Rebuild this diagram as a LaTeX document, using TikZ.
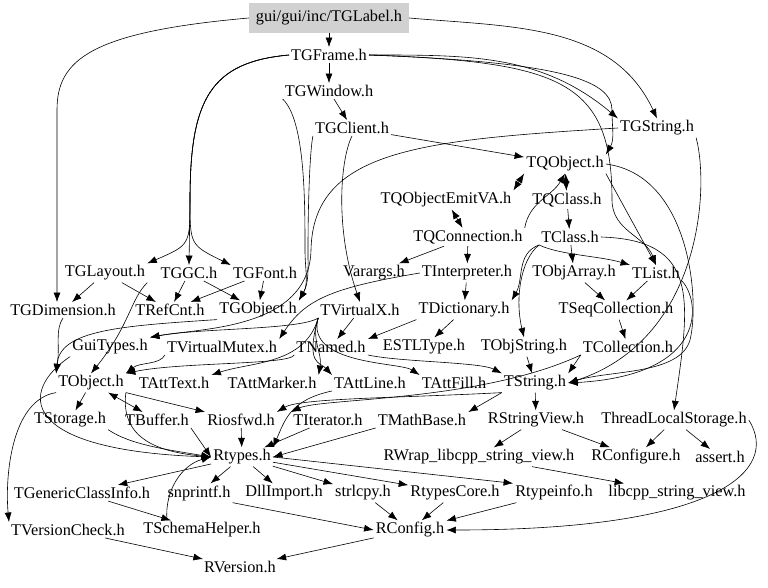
\documentclass[tikz,border=0pt]{standalone}
\usepackage{fontspec}
\setmainfont{Liberation Serif}
\usetikzlibrary{arrows.meta}
\begin{document}
\begin{tikzpicture}[x=1pt, y=-1pt,
        header/.style={inner sep=2pt, font=\fontsize{16.3}{18}\selectfont},
        root/.style={header, fill=black!18, minimum width=160pt, minimum height=30pt},
        arrow/.style={-{Latex[length=9.5pt,width=7pt]}, line width=0.6pt},
        both/.style={{Latex[length=9.5pt,width=7pt]}-{Latex[length=9.5pt,width=7pt]}, line width=0.6pt}
    ]
        \fill[white] (0,0) rectangle (768,587);
        \useasboundingbox (0,0) rectangle (768,587);

        % Upper part
        \node[root] (label) at (329,18) {gui/gui/inc/TGLabel.h};
        \node[header] (frame) at (329,55) {TGFrame.h};
        \node[header] (window) at (329,91) {TGWindow.h};
        \node[header] (client) at (352,128) {TGClient.h};
        \node[header] (gstring) at (657,128) {TGString.h};
        \node[header] (qobject) at (565,164) {TQObject.h};
        \node[header] (emitva) at (446,200) {TQObjectEmitVA.h};
        \node[header] (qclass) at (567,200) {TQClass.h};
        \node[header] (qconn) at (468,237) {TQConnection.h};
        \node[header] (tclass) at (570,237) {TClass.h};

        % Middle part
        \node[header] (glayout) at (105,273) {TGLayout.h};
        \node[header] (ggc) at (189,273) {TGGC.h};
        \node[header] (gfont) at (265,273) {TGFont.h};
        \node[header] (varargs) at (374,273) {Varargs.h};
        \node[header] (interp) at (467,273) {TInterpreter.h};
        \node[header] (objarray) at (574,273) {TObjArray.h};
        \node[header] (tlist) at (656,273) {TList.h};
        \node[header] (gdim) at (63,310) {TGDimension.h};
        \node[header] (refcnt) at (170,310) {TRefCnt.h};
        \node[header] (gobject) at (258,310) {TGObject.h};
        \node[header] (virtx) at (360,310) {TVirtualX.h};
        \node[header] (dict) at (464,310) {TDictionary.h};
        \node[header] (seqcoll) at (616,310) {TSeqCollection.h};
        \node[header] (guitypes) at (110,347) {GuiTypes.h};
        \node[header] (vmutex) at (222,347) {TVirtualMutex.h};
        \node[header] (named) at (331,347) {TNamed.h};
        \node[header] (estl) at (424,347) {ESTLType.h};
        \node[header] (objstring) at (524,347) {TObjString.h};
        \node[header] (coll) at (628,347) {TCollection.h};
        \node[header] (tobject) at (91,383) {TObject.h};
        \node[header] (atttext) at (174,383) {TAttText.h};
        \node[header] (attmarker) at (272,383) {TAttMarker.h};
        \node[header] (attline) at (370,383) {TAttLine.h};
        \node[header] (attfill) at (454,383) {TAttFill.h};
        \node[header] (tstring) at (535,383) {TString.h};

        % Lower part
        \node[header] (tstorage) at (70,420) {TStorage.h};
        \node[header] (tbuffer) at (157,420) {TBuffer.h};
        \node[header] (riosfwd) at (241,420) {Riosfwd.h};
        \node[header] (titerator) at (328,420) {TIterator.h};
        \node[header] (tmathbase) at (422,420) {TMathBase.h};
        \node[header] (rstringview) at (536,420) {RStringView.h};
        \node[header] (tls) at (674,420) {ThreadLocalStorage.h};
        \node[header] (rtypes) at (242,457) {Rtypes.h};
        \node[header] (rwrap) at (479,457) {RWrap\_libcpp\_string\_view.h};
        \node[header] (rconfigure) at (636,457) {RConfigure.h};
        \node[header] (assert) at (720,457) {assert.h};
        \node[header] (genclass) at (82,493) {TGenericClassInfo.h};
        \node[header] (snprintf) at (199,493) {snprintf.h};
        \node[header] (dllimport) at (284,493) {DllImport.h};
        \node[header] (strlcpy) at (363,493) {strlcpy.h};
        \node[header] (rtypescore) at (455,493) {RtypesCore.h};
        \node[header] (rtypeinfo) at (554,493) {Rtypeinfo.h};
        \node[header] (libcpp) at (677,493) {libcpp\_string\_view.h};
        \node[header] (tversion) at (68,530) {TVersionCheck.h};
        \node[header] (schema) at (202,530) {TSchemaHelper.h};
        \node[header] (rconfig) at (410,530) {RConfig.h};
        \node[header] (rversion) at (240,567) {RVersion.h};

        % From the GUI headers
        \draw[arrow] (label) -- (frame);
        \draw[arrow] (label.east) to[out=-5,in=115] (gstring.north);
        \draw[arrow] (label.west) .. controls (90,32) and (57,60) .. (57,110) -- ([xshift=-6pt]gdim.north);
        \draw[arrow] (frame) -- (window);
        \draw[arrow] (frame.east) to[out=0,in=140] (gstring.north west);
        \draw[arrow] (frame.east) .. controls (560,62) and (612,80) .. (612,110) to[out=270,in=60] (qobject.north east);
        \draw[arrow] (frame.east) .. controls (560,62) and (612,80) .. (612,200) to[out=270,in=110] (tlist.north);
        \draw[arrow] (frame.west) .. controls (210,62) and (190,100) .. (190,200) .. controls (190,245) .. (glayout.north east);
        \draw[arrow] (frame.west) .. controls (210,62) and (190,100) .. (190,200) -- (ggc.north);
        \draw[arrow] (frame.west) .. controls (210,62) and (190,100) .. (190,200) .. controls (190,245) .. (gfont.north west);
        \draw[arrow] (window) -- (client);
        \draw[arrow] (window.south west) .. controls (305,120) and (305,200) .. (305,250) to[out=270,in=60] (gobject.north east);
        \draw[arrow] (client.south west) .. controls (310,150) and (308,200) .. (308,250) to[out=270,in=60] (gobject.north east);
        \draw[arrow] (client.south) .. controls (340,160) and (335,230) .. (virtx.north);
        \draw[arrow] (client) -- (qobject);
        \draw[arrow] (gstring.west) .. controls (420,140) and (313,150) .. (311,250) .. controls (309,330) and (200,328) .. (guitypes.north east);
        \draw[arrow] (gstring.south east) .. controls (710,190) and (700,340) .. (tstring.east);

        % TQObject and friends
        \draw[both] (emitva.north east) -- (qobject.south west);
        \draw[both] (qobject) -- (qclass);
        \draw[both] (emitva) -- (qconn);
        \draw[arrow] (qconn.north east) to[out=80,in=240] (qobject.south);
        \draw[arrow] (qobject.south east) -- (tlist.north);
        \draw[arrow] (qobject.east) .. controls (690,175) and (700,300) .. (690,340) .. controls (680,375) and (610,370) .. (tstring.east);
        \draw[arrow] (qclass) -- (tclass);
        \draw[arrow] (qconn) -- (varargs);
        \draw[arrow] (qconn) -- (interp);
        \draw[arrow] (tclass) -- (objarray);
        \draw[arrow] (tclass.south west) .. controls (560,255) and (600,256) .. (tlist.north west);
        \draw[arrow] (tclass.south west) to[out=200,in=60] (dict.north east);
        \draw[arrow] (tclass.south west) .. controls (520,260) and (515,300) .. (objstring.north);
        \draw[arrow] (tclass.east) .. controls (700,240) and (690,300) .. (tls.north);
        \draw[arrow] (objarray) -- (seqcoll);
        \draw[arrow] (tlist) -- (seqcoll);
        \draw[arrow] (tlist.south east) .. controls (700,300) and (710,375) .. (tstring.east);
        \draw[arrow] (seqcoll) -- (coll);
        \draw[arrow] (interp) -- (dict);
        \draw[arrow] (interp.west) .. controls (330,288) and (305,300) .. (vmutex.north east);

        % Middle rows
        \draw[arrow] (glayout) -- (gdim);
        \draw[arrow] (glayout) -- (refcnt);
        \draw[arrow] (glayout.south east) .. controls (130,300) and (130,325) .. (tobject.north);
        \draw[arrow] (ggc) -- (refcnt);
        \draw[arrow] (ggc) -- (gobject);
        \draw[arrow] (gfont) -- (refcnt);
        \draw[arrow] (gfont) -- (gobject);
        \draw[arrow] (gobject.south west) .. controls (120,326) and (60,330) .. (tobject.north west);
        \draw[arrow] (gdim.south) .. controls (55,330) and (60,345) .. (tobject.north west);
        \draw[arrow] (virtx) -- (named);
        \draw[arrow] (virtx.south west) .. controls (300,330) and (200,328) .. (guitypes.north east);
        \draw[arrow] (dict.south west) -- (named.north east);
        \draw[arrow] (dict) -- (estl);
        \draw[arrow] (virtx.south west) .. controls (305,365) and (250,362) .. (atttext.north east);
        \draw[arrow] (virtx.south west) to[out=250,in=80] (attmarker.north east);
        \draw[arrow] (virtx.south west) .. controls (305,365) and (320,362) .. (attline.north west);
        \draw[arrow] (virtx.south west) .. controls (305,365) and (400,362) .. (attfill.north west);
        \draw[arrow] (named.south west) .. controls (290,365) and (180,362) .. (tobject.north east);
        \draw[arrow] (named.south east) .. controls (400,362) and (480,362) .. (tstring.north west);
        \draw[arrow] (vmutex.south west) .. controls (160,365) and (140,362) .. (tobject.north east);
        \draw[arrow] (objstring) -- (tstring);
        \draw[arrow] (coll.south west) -- (tstring.north east);
        \draw[arrow] (coll.south west) .. controls (480,402) and (320,398) .. (titerator.north west);

        % Lower rows
        \draw[arrow] (tobject) -- (tstorage);
        \draw[both] (tobject) -- (tbuffer);
        \draw[arrow] (tobject.south east) -- (riosfwd.north west);
        \draw[arrow] (tobject.south west) .. controls (10,400) and (5,480) .. (tversion.north west);
        \draw[arrow] (tobject.south east) .. controls (120,440) and (160,452) .. (rtypes.west);
        \draw[arrow] (guitypes.south west) .. controls (20,390) and (15,450) .. (rtypes.west);
        \draw[arrow] (tstorage.south east) .. controls (130,445) and (170,450) .. (rtypes.west);
        \draw[arrow] (tbuffer.south east) -- (rtypes.west);
        \draw[arrow] (riosfwd) -- (rtypes);
        \draw[arrow] (titerator) -- (rtypes);
        \draw[arrow] (tmathbase.south west) -- (rtypes.east);
        \draw[arrow] (attline.south west) .. controls (290,400) and (285,420) .. (rtypes.north east);
        \draw[arrow] (tstring.south west) .. controls (400,398) and (300,398) .. (riosfwd.north east);
        \draw[arrow] (tstring.south west) -- (tmathbase.north east);
        \draw[arrow] (tstring) -- (rstringview);
        \draw[arrow] (rstringview) -- (rwrap);
        \draw[arrow] (rstringview) -- (rconfigure);
        \draw[arrow] (tls) -- (rconfigure);
        \draw[arrow] (tls) -- (assert);
        \draw[arrow] (tls.east) .. controls (780,470) and (720,530) .. (rconfig.east);
        \draw[arrow] (rwrap) -- (libcpp);
        \draw[arrow] (rtypes) -- (genclass);
        \draw[arrow] (rtypes) -- (snprintf);
        \draw[arrow] (rtypes) -- (dllimport);
        \draw[arrow] (rtypes) -- (strlcpy);
        \draw[arrow] (rtypes) -- (rtypescore);
        \draw[arrow] (rtypes.east) -- (rtypeinfo.north west);
        \draw[arrow] (genclass) -- (schema);
        \draw[arrow] ([xshift=-35pt]schema.north) to[out=95,in=195] (rtypes.west);
        \draw[arrow] (snprintf.south east) -- (rconfig.west);
        \draw[arrow] (strlcpy) -- (rconfig);
        \draw[arrow] (rtypescore) -- (rconfig);
        \draw[arrow] (rtypeinfo) -- (rconfig);
        \draw[arrow] (tversion) -- (rversion);
        \draw[arrow] (rconfig) -- (rversion);
    \end{tikzpicture}
\end{document}
